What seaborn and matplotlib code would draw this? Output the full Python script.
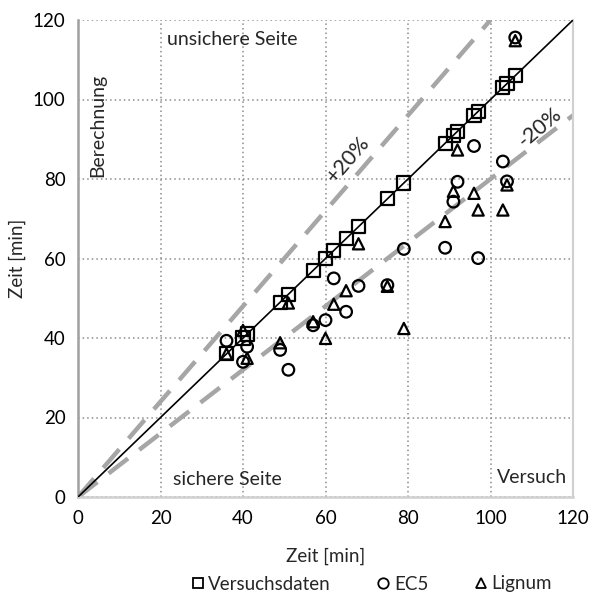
import numpy as np
import pandas as pd
import matplotlib
matplotlib.use("Agg")
import matplotlib.pyplot as plt
import seaborn as sns
from matplotlib.lines import Line2D

# ---- data ----
versuch = [36, 40, 41, 49, 51, 57, 60, 62, 65, 68, 75, 79, 89, 91, 92, 96, 97, 103, 104, 106]
ec5 = [39.3, 34.0, 37.8, 37.0, 32.0, 43.2, 44.5, 55.0, 46.6, 53.1, 53.3, 62.4, 62.7, 74.3, 79.3, 88.3, 60.1, 84.4, 79.4, 115.6]
lignum = [36.0, 41.9, 34.9, 38.8, 48.8, 44.1, 39.9, 48.5, 51.9, 63.7, 53.0, 42.4, 69.3, 76.9, 87.3, 76.4, 72.2, 72.2, 78.5, 114.8]
series_names = ["Versuchsdaten", "EC5", "Lignum"]
ticks = [0, 20, 40, 60, 80, 100, 120]
band_plus = 1.2
band_minus = 0.8

sns.set_theme(style="white")
plt.rcParams["font.family"] = ["Lato", "DejaVu Sans"]
FS = 13.5

fig = plt.figure(figsize=(5.92, 6.03), dpi=100)
ax = fig.add_axes([78/592, 1-497/603, (573-78)/592, (497-20)/603])

df = pd.DataFrame({
    "Versuch": versuch * 3,
    "Berechnung": versuch + ec5 + lignum,
    "Serie": [series_names[0]]*len(versuch) + [series_names[1]]*len(ec5) + [series_names[2]]*len(lignum),
})

markers = {"Versuchsdaten": "s", "EC5": "o", "Lignum": "^"}
sizes = {"Versuchsdaten": 90, "EC5": 70, "Lignum": 65}

# reference lines
ax.plot([0, 120], [0, 120], color="black", lw=1.2, zorder=3)
ax.plot([0, 120/band_plus], [0, 120], color="#A6A6A6", lw=3.2, ls=(0, (5.5, 3.2)), zorder=2, solid_capstyle="butt")
ax.plot([0, 120], [0, 120*band_minus], color="#A6A6A6", lw=3.2, ls=(0, (5.5, 3.2)), zorder=2, solid_capstyle="butt")

for name in series_names:
    sub = df[df["Serie"] == name]
    sns.scatterplot(data=sub, x="Versuch", y="Berechnung", marker=markers[name], s=sizes[name],
                    facecolor="none", edgecolor="black", linewidth=1.6, ax=ax, zorder=4, legend=False)

ax.set_xlim(0, 120)
ax.set_ylim(0, 120)
ax.set_xticks(ticks)
ax.set_yticks(ticks)
ax.tick_params(axis="both", labelsize=FS, length=0, pad=9, colors="black")
ax.grid(True, ls=(0, (1, 2)), color="#8C8C8C", lw=1.1)
ax.set_axisbelow(True)
ax.spines["top"].set_visible(False)
ax.spines["left"].set_color("#A0A0A0")
ax.spines["left"].set_linewidth(1.8)
ax.spines["bottom"].set_color("#D0D0D0")
ax.spines["bottom"].set_linewidth(1.8)
ax.spines["right"].set_color("#D0D0D0")
ax.spines["right"].set_linewidth(1.5)

ax.set_xlabel("Zeit [min]", fontsize=FS, labelpad=15)
ax.set_ylabel("Zeit [min]", fontsize=FS, labelpad=5)

# annotations
ax.text(37.3, 115, "unsichere Seite", fontsize=FS+0.5, ha="center", va="center")
ax.text(36.1, 4.3, "sichere Seite", fontsize=FS+0.5, ha="center", va="center")
ax.text(110, 4.8, "Versuch", fontsize=FS+0.5, ha="center", va="center")
ax.text(4.7, 93.6, "Berechnung", fontsize=FS+0.5, ha="center", va="center", rotation=90)
ax.text(65.5, 85.0, "+20%", fontsize=FS+2, ha="center", va="center", rotation=49)
ax.text(112, 93, "-20%", fontsize=FS+2, ha="center", va="center", rotation=40)

handles = [Line2D([], [], marker=markers[n], ls="none", mfc="none", mec="black", mew=1.3, ms=7.5) for n in series_names]
fig.legend(handles, series_names, loc="center", bbox_to_anchor=(0.625, 1-584/603), ncol=3, frameon=False,
           fontsize=FS, handletextpad=0.05, columnspacing=2.3, handlelength=1.0)

fig.savefig("out.png", dpi=100)
